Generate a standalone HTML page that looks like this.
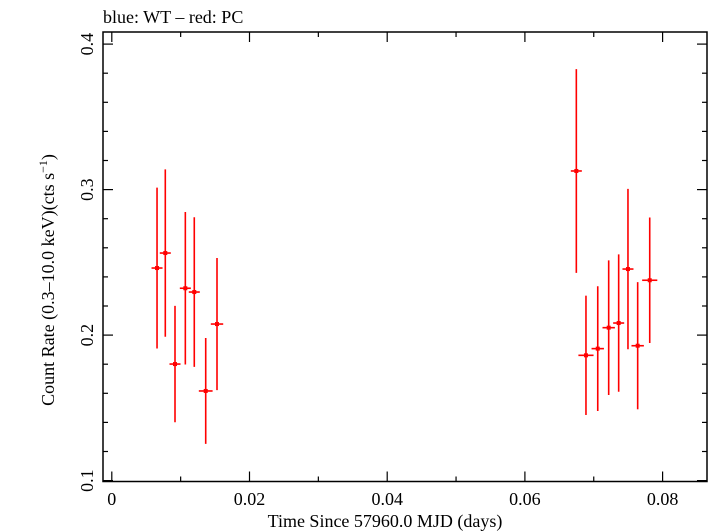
<!DOCTYPE html>
<html><head><meta charset="utf-8"><style>
body{margin:0;background:#fff;}
svg{display:block;font-family:"Liberation Serif",serif;}
</style></head><body>
<svg id="chart" width="709" height="532" viewBox="0 0 709 532" xmlns="http://www.w3.org/2000/svg">
<text x="103" y="23" font-size="18">blue: WT – red: PC</text>
<rect x="103" y="32" width="604" height="449.5" fill="none" stroke="#000" stroke-width="1.5"/>
<g id="ticks"></g>
<g id="marks"></g>
<text x="385" y="527" font-size="18" text-anchor="middle">Time Since 57960.0 MJD (days)</text>
<text transform="translate(54,280) rotate(-90)" font-size="18" text-anchor="middle">Count Rate (0.3–10.0 keV)(cts s<tspan font-size="12" dy="-7">−1</tspan><tspan dy="7">)</tspan></text>
</svg>
<script>
const times=[0.00657,0.00777,0.00918,0.01068,0.01198,0.01364,0.01528,0.06747,0.06887,0.07058,0.07217,0.07362,0.07497,0.07638,0.07813];
const rates=[0.2461,0.2564,0.1801,0.2322,0.2296,0.1616,0.2076,0.3128,0.1861,0.1907,0.2051,0.2083,0.2454,0.1927,0.2377];
const rateErr=[0.0553,0.0575,0.0400,0.0524,0.0514,0.0364,0.0454,0.0700,0.0410,0.0429,0.0463,0.0472,0.0551,0.0437,0.0431];
const timeErr=[0.0008,0.0008,0.0008,0.0008,0.0008,0.001,0.0009,0.0008,0.0011,0.0009,0.0009,0.0008,0.0008,0.0009,0.0011];
const xTickLabels=["0","0.02","0.04","0.06","0.08"];
const yTickLabels=["0.1","0.2","0.3","0.4"];
const NS="http://www.w3.org/2000/svg";
const X=t=>111.8+t*6885;
const Y=v=>480.6-(v-0.1)*1455;
const L=103,R=707,T=32,B=481.5;
function mk(tag,attrs,parent){const e=document.createElementNS(NS,tag);for(const k in attrs)e.setAttribute(k,attrs[k]);parent.appendChild(e);return e;}
const tg=document.getElementById('ticks');
for(let i=0;i<=8;i++){
  const t=i*0.01,x=X(t),len=i%2===0?10:5;
  const a=mk('line',{x1:x,x2:x,y1:B,y2:B-len,stroke:'#000','stroke-width':1.2},tg);
  
  
  const b=mk('line',{x1:x,x2:x,y1:T,y2:T+len,stroke:'#000','stroke-width':1.2},tg);
  
  
}
xTickLabels.forEach((s,i)=>{
  const tx=mk('text',{x:X(parseFloat(s)),y:505,'font-size':18,'text-anchor':'middle'},tg);
  tx.textContent=s;
  
  
});
for(let i=0;i<=15;i++){
  const v=0.1+i*0.02,y=Y(v);
  if(y<T-0.5)break;
  const len=i%5===0?10:5;
  const a=mk('line',{x1:L,x2:L+len,y1:y,y2:y,stroke:'#000','stroke-width':1.2},tg);
  
  
  const b=mk('line',{x1:R,x2:R-len,y1:y,y2:y,stroke:'#000','stroke-width':1.2},tg);
  
  
}
yTickLabels.forEach(s=>{
  const y=Y(parseFloat(s));
  const tx=mk('text',{transform:`translate(93,${y}) rotate(-90)`,'font-size':18,'text-anchor':'middle'},tg);
  tx.textContent=s;
  
  
});
const mg=document.getElementById('marks');
times.forEach((t,i)=>{
  const g=mk('g',{},mg);
  
  
  mk('line',{x1:X(t),x2:X(t),y1:Y(rates[i]+rateErr[i]),y2:Y(rates[i]-rateErr[i]),stroke:'#f00','stroke-width':1.6},g);
  mk('line',{x1:X(t-timeErr[i]),x2:X(t+timeErr[i]),y1:Y(rates[i]),y2:Y(rates[i]),stroke:'#f00','stroke-width':1.6},g);
  mk('rect',{x:X(t)-2,y:Y(rates[i])-2,width:4,height:4,fill:'#f00'},g);
});
</script>
</body></html>
